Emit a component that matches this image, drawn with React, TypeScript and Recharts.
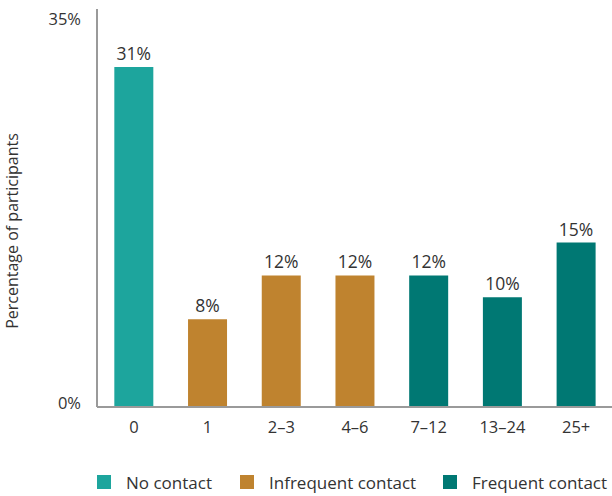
import { BarChart, Bar, XAxis, YAxis, Cell, LabelList } from 'recharts';

// Contact frequency buckets and share of participants (%)
const categories = ['0', '1', '2–3', '4–6', '7–12', '13–24', '25+'];
const shares = [31, 8, 12, 12, 12, 10, 15];
const groups = ['none', 'infrequent', 'infrequent', 'infrequent', 'frequent', 'frequent', 'frequent'];
const yTicks = [0, 35];

const legendItems = [
  { key: 'none', label: 'No contact' },
  { key: 'infrequent', label: 'Infrequent contact' },
  { key: 'frequent', label: 'Frequent contact' },
];

const COLORS: Record<string, string> = {
  none: '#1DA59D',
  infrequent: '#BF832F',
  frequent: '#007873',
};

const FONT = '"Open Sans", Lato, sans-serif';
const TEXT = '#333333';
const AXIS = '#9a9a9a';

const data = categories.map((name, i) => ({ name, value: shares[i], group: groups[i] }));

// left edge of each legend swatch
const legendX = [97, 240, 443];

export default function App() {
  return (
    <div style={{ position: 'absolute', left: 0, top: 0, width: 612, height: 496, background: '#fff', fontFamily: FONT }}>
      <BarChart
        width={612}
        height={496}
        data={data}
        margin={{ top: 9, right: -1, left: 0, bottom: 49 }}
        barCategoryGap="23.5%"
      >
        <XAxis
          dataKey="name"
          axisLine={{ stroke: AXIS, strokeWidth: 2 }}
          tickLine={false}
          tickSize={0}
          tickMargin={14}
          height={40}
          tick={{ fill: TEXT, fontSize: 16.5, fontFamily: FONT }}
        />
        <YAxis
          domain={[0, 36.3]}
          ticks={yTicks}
          tickFormatter={(v: number) => `${v}%`}
          axisLine={{ stroke: AXIS, strokeWidth: 2 }}
          tickLine={false}
          tickSize={0}
          tickMargin={16}
          width={97}
          tick={{ fill: TEXT, fontSize: 16.5, fontFamily: FONT, dy: -4 }}
          label={{
            value: 'Percentage of participants',
            angle: -90,
            position: 'insideLeft',
            offset: 12,
            dy: 23,
            style: { textAnchor: 'middle', fill: TEXT, fontSize: 16, fontFamily: FONT },
          }}
        />
        <Bar dataKey="value" isAnimationActive={false}>
          {data.map((d) => (
            <Cell key={d.name} fill={COLORS[d.group]} />
          ))}
          <LabelList
            dataKey="value"
            position="top"
            offset={7}
            formatter={(v: any) => `${v}%`}
            style={{ fill: TEXT, fontSize: 17.5, fontFamily: FONT }}
          />
        </Bar>
      </BarChart>
      {legendItems.map((item, i) => (
        <div
          key={item.key}
          style={{
            position: 'absolute',
            left: legendX[i],
            top: 475,
            display: 'flex',
            alignItems: 'center',
            height: 14,
            fontSize: 17,
            color: TEXT,
            whiteSpace: 'nowrap',
          }}
        >
          <span style={{ display: 'inline-block', width: 14, height: 14, background: COLORS[item.key], marginRight: 15 }} />
          {item.label}
        </div>
      ))}
    </div>
  );
}
